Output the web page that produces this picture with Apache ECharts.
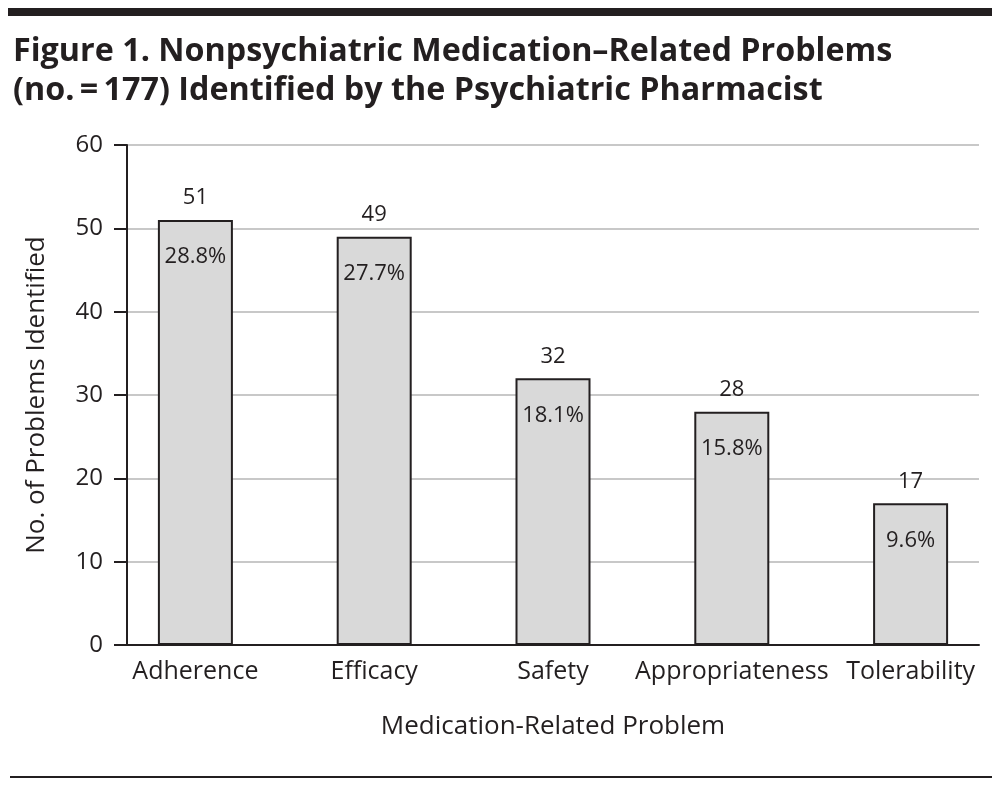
<!DOCTYPE html>
<html>
<head>
<meta charset="utf-8">
<script src="https://cdn.jsdelivr.net/npm/echarts@6/dist/echarts.min.js"></script>
<style>
html,body{margin:0;padding:0;background:#fff;}
#chart{width:1000px;height:786px;}
</style>
</head>
<body>
<div id="chart"></div>
<script>
var categories = ['Adherence', 'Efficacy', 'Safety', 'Appropriateness', 'Tolerability'];
var counts = [51, 49, 32, 28, 17];
var percents = ['28.8%', '27.7%', '18.1%', '15.8%', '9.6%'];
var yTicks = [0, 10, 20, 30, 40, 50, 60];

var FONT = '"Open Sans", "Noto Sans", sans-serif';
var INK = '#231f20';

var chart = echarts.init(document.getElementById('chart'));
var option = {
  animation: false,
  backgroundColor: '#fff',
  title: {
    text: 'Figure 1. Nonpsychiatric Medication\u2013Related Problems\n(no.\u2009=\u2009177) Identified by the Psychiatric Pharmacist',
    left: 8,
    top: 27,
    textStyle: {
      fontFamily: FONT,
      fontWeight: 'bold',
      fontSize: 32.3,
      lineHeight: 39,
      color: INK
    }
  },
  graphic: [
    { type: 'rect', shape: { x: 8, y: 8, width: 984, height: 8 }, style: { fill: INK } },
    { type: 'rect', shape: { x: 10, y: 776, width: 982, height: 2 }, style: { fill: INK } }
  ],
  grid: [
    { left: 127, right: 21, top: 145, bottom: 141 },
    { left: 106, right: 0, top: 145, bottom: 141 }
  ],
  xAxis: [
    {
      gridIndex: 0, type: 'category', data: categories,
      axisLine: { lineStyle: { color: INK, width: 2 } },
      axisTick: { show: false }, axisLabel: { show: false }
    },
    {
      gridIndex: 1, type: 'category', data: categories,
      axisLine: { show: false }, axisTick: { show: false },
      axisLabel: { color: INK, fontFamily: FONT, fontSize: 25, margin: 14, interval: 0 },
      name: 'Medication-Related Problem',
      nameLocation: 'middle', nameGap: 69,
      nameTextStyle: { color: INK, fontFamily: FONT, fontSize: 26 }
    }
  ],
  yAxis: [
    {
      gridIndex: 0, type: 'value', min: yTicks[0], max: yTicks[yTicks.length - 1], interval: 10,
      axisLine: { show: true, lineStyle: { color: INK, width: 2 } },
      axisTick: { show: true, length: 13, lineStyle: { color: INK, width: 2 } },
      axisLabel: { color: INK, fontFamily: FONT, fontSize: 24, margin: 24 },
      splitLine: { lineStyle: { color: '#c8c8c8', width: 2 } },
      name: 'No. of Problems Identified',
      nameLocation: 'middle', nameGap: 77,
      nameTextStyle: { color: INK, fontFamily: FONT, fontSize: 26 }
    },
    {
      gridIndex: 1, type: 'value', min: yTicks[0], max: yTicks[yTicks.length - 1], interval: 10,
      show: false, splitLine: { show: false }
    }
  ],
  series: [
    {
      type: 'bar',
      xAxisIndex: 1, yAxisIndex: 1,
      data: counts,
      barWidth: 75,
      itemStyle: { color: '#d9d9d9', borderColor: INK, borderWidth: 2 },
      label: {
        show: true, position: 'top', distance: 11,
        color: INK, fontFamily: FONT, fontSize: 22
      },
      z: 3
    },
    {
      type: 'bar',
      xAxisIndex: 1, yAxisIndex: 1,
      data: counts,
      barWidth: 75,
      barGap: '-100%',
      itemStyle: { color: 'rgba(0,0,0,0)', borderWidth: 0 },
      label: {
        show: true, position: 'insideTop', distance: 26,
        color: INK, fontFamily: FONT, fontSize: 22,
        formatter: function (p) { return percents[p.dataIndex]; }
      },
      z: 4,
      silent: true
    }
  ]
};
chart.setOption(option);
</script>
</body>
</html>
